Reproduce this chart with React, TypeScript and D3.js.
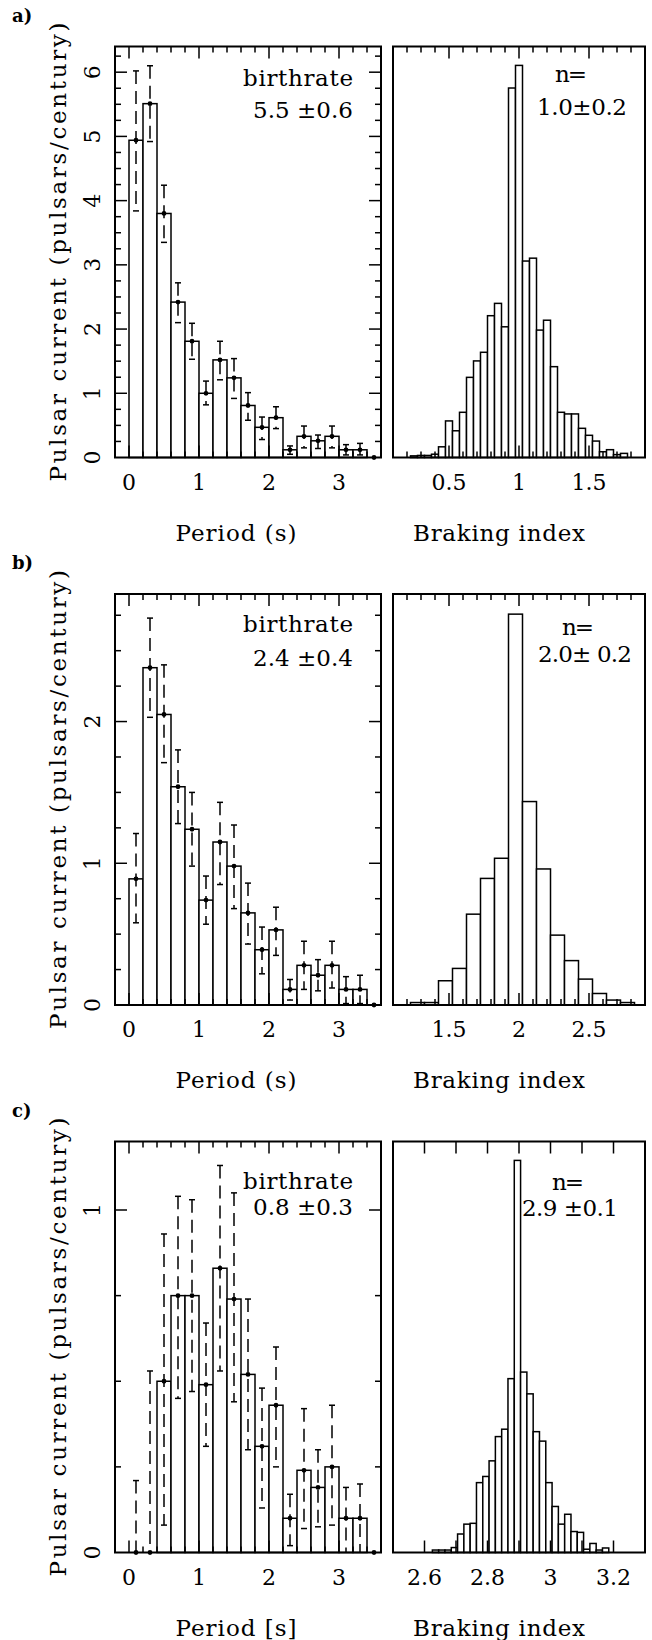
import React from 'react';
import * as d3 from 'd3';

// period bins (s), bin width 0.2
const periodBins = [0.1, 0.3, 0.5, 0.7, 0.9, 1.1, 1.3, 1.5, 1.7, 1.9, 2.1, 2.3, 2.5, 2.7, 2.9, 3.1, 3.3, 3.5];
const periodTickLabels = [0, 1, 2, 3];

// a) pulsar current, with error bar ends
const currentA = [4.94, 5.51, 3.80, 2.42, 1.81, 1.00, 1.52, 1.24, 0.81, 0.47, 0.62, 0.12, 0.33, 0.26, 0.33, 0.12, 0.12, 0];
const upperA = [6.02, 6.10, 4.24, 2.72, 2.09, 1.19, 1.81, 1.54, 1.01, 0.63, 0.79, 0.18, 0.49, 0.35, 0.49, 0.20, 0.22, 0];
const lowerA = [3.84, 4.92, 3.35, 2.10, 1.53, 0.82, 1.21, 0.92, 0.58, 0.28, 0.45, 0.05, 0.15, 0.14, 0.15, 0.04, 0.04, 0];

// b)
const currentB = [0.89, 2.38, 2.05, 1.54, 1.24, 0.74, 1.15, 0.98, 0.65, 0.39, 0.53, 0.11, 0.28, 0.21, 0.28, 0.11, 0.11, 0];
const upperB = [1.21, 2.73, 2.40, 1.80, 1.50, 0.91, 1.43, 1.27, 0.86, 0.55, 0.69, 0.18, 0.45, 0.32, 0.45, 0.20, 0.21, 0];
const lowerB = [0.58, 2.03, 1.71, 1.28, 0.98, 0.57, 0.85, 0.68, 0.43, 0.22, 0.35, 0.035, 0.11, 0.10, 0.12, 0.01, 0.01, 0];

// c)
const currentC = [0, 0, 0.50, 0.75, 0.75, 0.49, 0.83, 0.74, 0.52, 0.31, 0.43, 0.10, 0.24, 0.19, 0.25, 0.10, 0.10, 0];
const upperC = [0.21, 0.53, 0.93, 1.04, 1.03, 0.67, 1.13, 1.05, 0.74, 0.48, 0.60, 0.17, 0.42, 0.30, 0.43, 0.19, 0.20, 0];
const lowerC = [0, 0, 0.08, 0.45, 0.47, 0.31, 0.53, 0.44, 0.30, 0.13, 0.25, 0.02, 0.07, 0.075, 0.08, 0, 0, 0];

// braking index histograms (relative counts, % of frame height)
const brakingBinsA = [0.25, 0.3, 0.35, 0.4, 0.45, 0.5, 0.55, 0.6, 0.65, 0.7, 0.75, 0.8, 0.85, 0.9, 0.95, 1.0, 1.05, 1.1, 1.15, 1.2, 1.25, 1.3, 1.35, 1.4, 1.45, 1.5, 1.55, 1.6, 1.65, 1.7, 1.75];
const brakingCountsA = [0.4, 0.5, 0.5, 0.8, 2.6, 8.9, 6.5, 11.0, 19.5, 23.5, 25.6, 34.5, 37.5, 31.8, 89.9, 95.4, 47.8, 48.5, 31.0, 33.4, 22.1, 11.0, 10.6, 10.6, 7.1, 5.4, 4.0, 1.4, 1.9, 0.7, 1.0];
const brakingTickLabelsA = ['0.5', '1', '1.5'];

const brakingBinsB = [1.275, 1.375, 1.475, 1.575, 1.675, 1.775, 1.875, 1.975, 2.075, 2.175, 2.275, 2.375, 2.475, 2.575, 2.675, 2.775];
const brakingCountsB = [0.6, 0.6, 5.9, 8.9, 22.1, 30.8, 35.7, 95.1, 49.5, 33.1, 17.0, 10.8, 6.3, 2.8, 1.2, 0.6];
const brakingTickLabelsB = ['1.5', '2', '2.5'];

const brakingBinsC = [2.635, 2.655, 2.675, 2.695, 2.715, 2.735, 2.755, 2.775, 2.795, 2.815, 2.835, 2.855, 2.875, 2.895, 2.915, 2.935, 2.955, 2.975, 2.995, 3.015, 3.035, 3.055, 3.075, 3.095, 3.115, 3.135, 3.155, 3.175];
const brakingCountsC = [0.6, 0.6, 0.6, 1.2, 4.5, 6.9, 7.1, 17.0, 18.5, 22.3, 28.2, 30.0, 42.3, 95.4, 43.9, 38.6, 29.4, 27.1, 17.0, 11.2, 6.9, 9.3, 5.1, 4.9, 0.8, 2.2, 0.6, 1.1];
const brakingTickLabelsC = ['2.6', '2.8', '3', '3.2'];

const FONT = "'DejaVu Serif', serif";
const PANEL_H = 411;
const LEFT = [115, 381];
const RIGHT = [393, 645];
const MAJOR = 12;
const MINOR = 6;

function PeriodPanel({ top, values, upper, lower, yMax, yLabels, note, noteY, letter, xTitle }) {
  const x = d3.scaleLinear().domain([-0.2, 3.6]).range(LEFT);
  const y = d3.scaleLinear().domain([0, yMax]).range([top + PANEL_H, top]);
  const bottom = top + PANEL_H;
  const xTicks = d3.range(0, 3.601, 0.2);
  const yTicks = d3.range(0.25, yMax, 0.25);
  const isInt = (v) => Math.abs(v - Math.round(v)) < 1e-6;

  return (
    <g>
      <text x={12} y={top - 25} fontFamily={FONT} fontWeight="bold" fontSize={18}>{letter}</text>
      {periodBins.map((c, i) => values[i] > 0 && (
        <rect key={'b' + i} x={x(c - 0.1)} width={x(c + 0.1) - x(c - 0.1)} y={y(values[i])}
          height={bottom - y(values[i])} fill="white" stroke="black" strokeWidth={1.5} />
      ))}
      {periodBins.map((c, i) => {
        const cx = x(c);
        return (
          <g key={'e' + i}>
            {upper[i] > lower[i] && (
              <line x1={cx} x2={cx} y1={y(upper[i])} y2={y(lower[i])} stroke="black" strokeWidth={1.5} strokeDasharray="13 7" />
            )}
            {upper[i] > 0 && <line x1={cx - 3} x2={cx + 3} y1={y(upper[i])} y2={y(upper[i])} stroke="black" strokeWidth={1.5} />}
            {lower[i] > 0 && <line x1={cx - 3} x2={cx + 3} y1={y(lower[i])} y2={y(lower[i])} stroke="black" strokeWidth={1.5} />}
            <circle cx={cx} cy={y(values[i])} r={2.4} fill="black" />
          </g>
        );
      })}
      {xTicks.map((t, i) => {
        const len = isInt(t) ? MAJOR : MINOR;
        return (
          <g key={'xt' + i}>
            <line x1={x(t)} x2={x(t)} y1={top} y2={top + len} stroke="black" strokeWidth={1.5} />
            <line x1={x(t)} x2={x(t)} y1={bottom} y2={bottom - len} stroke="black" strokeWidth={1.5} />
          </g>
        );
      })}
      {yTicks.map((t, i) => {
        const len = isInt(t) ? MAJOR : MINOR;
        return (
          <g key={'yt' + i}>
            <line x1={LEFT[0]} x2={LEFT[0] + len} y1={y(t)} y2={y(t)} stroke="black" strokeWidth={1.5} />
            <line x1={LEFT[1]} x2={LEFT[1] - len} y1={y(t)} y2={y(t)} stroke="black" strokeWidth={1.5} />
          </g>
        );
      })}
      {periodTickLabels.map((t) => (
        <text key={'xl' + t} x={x(t)} y={bottom + 32} textAnchor="middle" fontFamily={FONT} fontSize={22}>{t}</text>
      ))}
      {yLabels.map((t) => (
        <text key={'yl' + t} transform={`translate(100,${y(t)}) rotate(-90)`} textAnchor="middle" fontFamily={FONT} fontSize={22}>{t}</text>
      ))}
      <text transform={`translate(66,${top + PANEL_H / 2}) rotate(-90)`} textAnchor="middle" fontFamily={FONT} fontSize={23}
        textLength={459} lengthAdjust="spacing">Pulsar current (pulsars/century)</text>
      <text x={353} y={top + noteY[0]} textAnchor="end" fontFamily={FONT} fontSize={23} textLength={110} lengthAdjust="spacing">birthrate</text>
      <text x={353} y={top + noteY[1]} textAnchor="end" fontFamily={FONT} fontSize={23} textLength={100} lengthAdjust="spacing">{note}</text>
      <text x={236} y={bottom + 83} textAnchor="middle" fontFamily={FONT} fontSize={23} textLength={121} lengthAdjust="spacing">{xTitle}</text>
      <rect x={LEFT[0]} y={top} width={LEFT[1] - LEFT[0]} height={PANEL_H} fill="none" stroke="black" strokeWidth={2} />
    </g>
  );
}

function BrakingPanel({ top, bins, counts, binW, domain, tickStep, majorEvery, tickLabels, note, noteX, noteY, noteW }) {
  const x = d3.scaleLinear().domain(domain).range(RIGHT);
  const y = d3.scaleLinear().domain([0, 100]).range([top + PANEL_H, top]);
  const bottom = top + PANEL_H;
  const ticks = d3.range(domain[0] + tickStep, domain[1] - tickStep / 2, tickStep);
  const isMajor = (v) => Math.abs(v / majorEvery - Math.round(v / majorEvery)) < 1e-6;

  return (
    <g>
      {bins.map((c, i) => (
        <rect key={'h' + i} x={x(c - binW / 2)} width={x(c + binW / 2) - x(c - binW / 2)} y={y(counts[i])}
          height={bottom - y(counts[i])} fill="white" stroke="black" strokeWidth={1.5} />
      ))}
      {ticks.map((t, i) => {
        const len = isMajor(t) ? MAJOR : MINOR;
        return (
          <g key={'t' + i}>
            <line x1={x(t)} x2={x(t)} y1={top} y2={top + len} stroke="black" strokeWidth={1.5} />
            <line x1={x(t)} x2={x(t)} y1={bottom} y2={bottom - len} stroke="black" strokeWidth={1.5} />
          </g>
        );
      })}
      {tickLabels.map((t) => (
        <text key={'l' + t} x={x(+t)} y={bottom + 32} textAnchor="middle" fontFamily={FONT} fontSize={22}>{t}</text>
      ))}
      <text x={noteX[0]} y={top + noteY[0]} textAnchor="middle" fontFamily={FONT} fontSize={23} textLength={32} lengthAdjust="spacing">n=</text>
      <text x={noteX[1]} y={top + noteY[1]} textAnchor="middle" fontFamily={FONT} fontSize={23} textLength={noteW} lengthAdjust="spacing">{note}</text>
      <text x={499} y={bottom + 83} textAnchor="middle" fontFamily={FONT} fontSize={23} textLength={172} lengthAdjust="spacing">Braking index</text>
      <rect x={RIGHT[0]} y={top} width={RIGHT[1] - RIGHT[0]} height={PANEL_H} fill="none" stroke="black" strokeWidth={2} />
    </g>
  );
}

export default function App() {
  const tops = [46.5, 594, 1141.5];
  return (
    <svg width={652} height={1640} style={{ position: 'absolute', left: 0, top: 0, background: 'white' }}>
      <rect width={652} height={1640} fill="white" />
      <PeriodPanel top={tops[0]} values={currentA} upper={upperA} lower={lowerA} yMax={6.4}
        yLabels={[0, 1, 2, 3, 4, 5, 6]} note="5.5 ±0.6" noteY={[39, 71]} letter="a)" xTitle="Period (s)" />
      <BrakingPanel top={tops[0]} bins={brakingBinsA} counts={brakingCountsA} binW={0.05} domain={[0.1, 1.9]}
        tickStep={0.1} majorEvery={0.5} tickLabels={brakingTickLabelsA} note="1.0±0.2" noteX={[571, 582]} noteY={[35, 68]} noteW={90} />

      <PeriodPanel top={tops[1]} values={currentB} upper={upperB} lower={lowerB} yMax={2.9}
        yLabels={[0, 1, 2]} note="2.4 ±0.4" noteY={[38, 72]} letter="b)" xTitle="Period (s)" />
      <BrakingPanel top={tops[1]} bins={brakingBinsB} counts={brakingCountsB} binW={0.1} domain={[1.1, 2.9]}
        tickStep={0.1} majorEvery={0.5} tickLabels={brakingTickLabelsB} note="2.0± 0.2" noteX={[578, 585]} noteY={[41, 68]} noteW={94} />

      <PeriodPanel top={tops[2]} values={currentC} upper={upperC} lower={lowerC} yMax={1.2}
        yLabels={[0, 1]} note="0.8 ±0.3" noteY={[47, 73]} letter="c)" xTitle="Period [s]" />
      <BrakingPanel top={tops[2]} bins={brakingBinsC} counts={brakingCountsC} binW={0.02} domain={[2.5, 3.3]}
        tickStep={0.1} majorEvery={0.1} tickLabels={brakingTickLabelsC} note="2.9 ±0.1" noteX={[568, 570]} noteY={[48, 74]} noteW={96} />
    </svg>
  );
}
